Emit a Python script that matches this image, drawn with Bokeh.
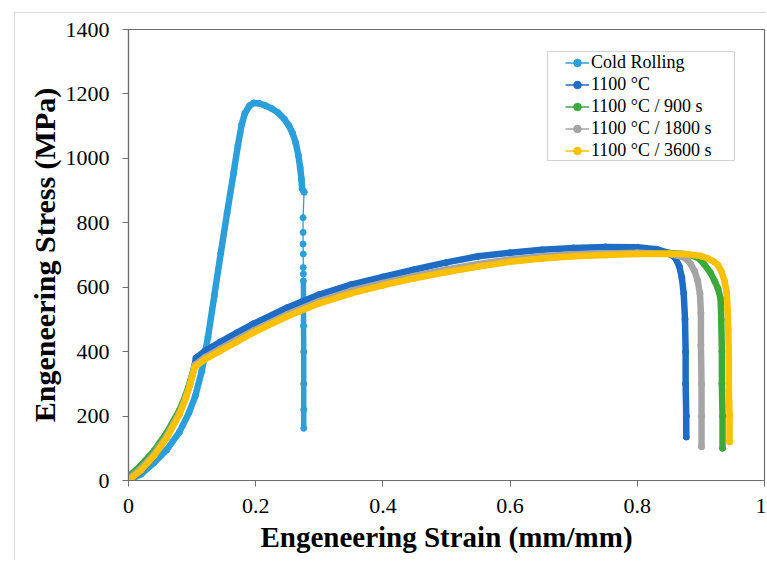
import numpy as np
from bokeh.plotting import figure
from bokeh.models import (Range1d, FixedTicker, Legend, LegendItem, BoxAnnotation,
                          Title)
from bokeh.embed import file_html
from bokeh.resources import INLINE

# ---- tensile data: engineering strain (mm/mm) vs engineering stress (MPa) ----
# Cold rolled
cr_strain = [0, 0.02, 0.04, 0.06, 0.08, 0.095, 0.105, 0.115, 0.125, 0.135, 0.145, 0.155,
             0.165, 0.172, 0.178, 0.183, 0.19, 0.197, 0.205, 0.215, 0.225, 0.235, 0.245,
             0.252, 0.258, 0.263, 0.267, 0.27, 0.272, 0.273, 0.276]
cr_stress = [0, 20, 55, 95, 150, 210, 262, 338, 445, 575, 705, 830,
             952, 1040, 1105, 1140, 1163, 1172, 1171, 1164, 1155, 1142, 1122,
             1102, 1078, 1048, 1010, 970, 935, 905, 895]
# fracture drop of the cold rolled sample
cr_drop_strain = [0.276, 0.2745, 0.2745, 0.2745, 0.2748, 0.2748, 0.275, 0.275, 0.2752,
                  0.2752, 0.2755, 0.2755, 0.2755, 0.2755]
cr_drop_stress = [895, 816, 770, 734, 703, 661, 641, 620, 560, 480, 400, 300, 220, 162]

# Annealed 1100 °C
a0_strain = [0, 0.02, 0.04, 0.06, 0.08, 0.095, 0.102, 0.106, 0.12, 0.144, 0.17, 0.197,
             0.25, 0.3, 0.35, 0.4, 0.45, 0.5, 0.55, 0.6, 0.65, 0.7, 0.75, 0.8, 0.83,
             0.85, 0.86, 0.866, 0.87, 0.873, 0.875, 0.876, 0.876, 0.877, 0.877]
a0_stress = [0, 30, 75, 135, 210, 290, 340, 380, 402, 430, 458, 487,
             537, 577, 608, 632, 655, 677, 696, 707, 716, 722, 725, 724, 718,
             706, 690, 665, 630, 580, 500, 400, 300, 200, 135]

# 1100 °C / 900 s
a900_strain = [0, 0.02, 0.04, 0.06, 0.08, 0.09, 0.097, 0.104, 0.12, 0.144, 0.17, 0.197,
               0.25, 0.3, 0.35, 0.4, 0.45, 0.5, 0.55, 0.6, 0.65, 0.7, 0.75, 0.8, 0.85,
               0.88, 0.895, 0.905, 0.915, 0.922, 0.927, 0.931, 0.932, 0.933, 0.933,
               0.934, 0.934]
a900_stress = [12, 48, 92, 148, 218, 265, 308, 354, 378, 404, 432, 462,
               512, 552, 583, 608, 630, 649, 666, 681, 691, 698, 702, 705, 706,
               702, 692, 672, 645, 618, 595, 565, 500, 400, 300, 200, 100]

# 1100 °C / 1800 s
a1800_strain = [0, 0.02, 0.04, 0.06, 0.08, 0.09, 0.097, 0.105, 0.12, 0.144, 0.17, 0.197,
                0.25, 0.3, 0.35, 0.4, 0.45, 0.5, 0.55, 0.6, 0.65, 0.7, 0.75, 0.8, 0.85,
                0.87, 0.878, 0.884, 0.89, 0.895, 0.8985, 0.9, 0.9, 0.901, 0.901, 0.901]
a1800_stress = [5, 38, 82, 138, 210, 258, 302, 360, 382, 409, 437, 466,
                516, 557, 589, 613, 635, 655, 672, 686, 696, 702, 705, 707, 703,
                695, 686, 672, 650, 620, 580, 520, 420, 300, 200, 105]

# 1100 °C / 3600 s
a3600_strain = [0, 0.02, 0.04, 0.06, 0.08, 0.09, 0.097, 0.104, 0.12, 0.144, 0.17, 0.197,
                0.25, 0.3, 0.35, 0.4, 0.45, 0.5, 0.55, 0.6, 0.65, 0.7, 0.75, 0.8, 0.85,
                0.88, 0.9, 0.91, 0.92, 0.927, 0.932, 0.937, 0.9405, 0.942, 0.943, 0.944,
                0.944, 0.945, 0.945]
a3600_stress = [0, 32, 76, 132, 205, 255, 300, 352, 376, 402, 430, 460,
                510, 550, 581, 606, 628, 647, 664, 679, 689, 696, 700, 703, 704,
                702, 697, 690, 680, 668, 650, 620, 585, 530, 470, 380,
                280, 200, 120]

series_labels = ["Cold Rolling", "1100 °C", "1100 °C / 900 s", "1100 °C / 1800 s",
                 "1100 °C / 3600 s"]
series_colors = ["#2B9FDA", "#1F6CC4", "#3BAA3A", "#A5A5A5", "#FFC000"]

x_ticks = [0, 0.2, 0.4, 0.6, 0.8, 1]
x_tick_labels = ["0", "0.2", "0.4", "0.6", "0.8", "1"]
y_ticks = [0, 200, 400, 600, 800, 1000, 1200, 1400]
y_tick_labels = ["0", "200", "400", "600", "800", "1000", "1200", "1400"]

x_title = "Engeneering Strain (mm/mm)"
y_title = "Engeneering Stress (MPa)"

SERIF = "Liberation Serif"
AXIS_GREY = "#6E6E6E"

# the chart sits inside a light grey chart-area border (top and left edges)
p = figure(width=752, height=548, output_backend="svg", toolbar_location=None,
           x_range=Range1d(0, 1), y_range=Range1d(0, 1400),
           min_border_left=113, min_border_right=3, min_border_top=16,
           min_border_bottom=81, margin=(12, 0, 0, 14),
           styles={"border-top": "1px solid #DCDCDC",
                   "border-left": "1px solid #DCDCDC"})

p.xgrid.visible = False
p.ygrid.visible = False
p.outline_line_color = AXIS_GREY
p.outline_line_width = 1.2

for ax, ticks, labels in ((p.xaxis[0], x_ticks, x_tick_labels),
                          (p.yaxis[0], y_ticks, y_tick_labels)):
    ax.ticker = FixedTicker(ticks=ticks)
    ax.major_label_overrides = {t: s for t, s in zip(ticks, labels)}
    ax.minor_tick_line_color = None
    ax.major_tick_in = 0
    ax.major_tick_out = 6
    ax.major_tick_line_color = AXIS_GREY
    ax.axis_line_color = AXIS_GREY
    ax.axis_line_width = 1.2
    ax.major_label_text_font = SERIF
    ax.major_label_text_font_size = "22px"
    ax.major_label_text_color = "black"

p.xaxis.axis_label = x_title
p.xaxis.axis_label_text_font = SERIF
p.xaxis.axis_label_text_font_style = "bold"
p.xaxis.axis_label_text_font_size = "29px"
p.xaxis.axis_label_text_color = "black"
p.xaxis.major_label_standoff = 12
p.yaxis.major_label_standoff = 13
p.xaxis.axis_label_standoff = 5

# vertical axis title, set a little above the frame centre
p.add_layout(Title(text=y_title, align="center", offset=43, vertical_align="middle",
                   standoff=2, text_font=SERIF, text_font_style="bold",
                   text_font_size="30px", text_color="black"), "left")

BAND = 6.5
DOT = 6

# cold rolled curve (drawn first, below the annealed ones)
c = series_colors[0]
p.line(cr_strain, cr_stress, line_color=c, line_width=BAND, line_join="round", line_cap="round")
p.scatter(cr_strain, cr_stress, size=DOT, color=c)
p.line(cr_drop_strain, cr_drop_stress, line_color=c, line_width=1.3)
p.scatter(cr_drop_strain, cr_drop_stress, size=DOT, color=c)
dense = [i for i, s in enumerate(cr_drop_stress) if s <= 620]
p.line([cr_drop_strain[i] for i in dense], [cr_drop_stress[i] for i in dense],
       line_color=c, line_width=5.5, line_cap="round")

annealed = [(a0_strain, a0_stress), (a900_strain, a900_stress),
            (a1800_strain, a1800_stress), (a3600_strain, a3600_stress)]
for (xs, ys), col in zip(annealed, series_colors[1:]):
    p.line(xs, ys, line_color=col, line_width=BAND, line_join="round", line_cap="round")
    p.scatter(xs, ys, size=DOT, color=col)

# legend frame
p.add_layout(BoxAnnotation(left=531, right=718, top=37, bottom=146,
                           left_units="canvas", right_units="canvas",
                           top_units="canvas", bottom_units="canvas",
                           fill_color="white", fill_alpha=1.0,
                           line_color=AXIS_GREY, line_width=1.2))

items = []
for lab, col in zip(series_labels, series_colors):
    lr = p.line([np.nan], [np.nan], line_color=col, line_width=1.5)
    sr = p.scatter([np.nan], [np.nan], size=6, color=col)
    items.append(LegendItem(label=lab, renderers=[lr, sr]))

legend = Legend(items=items, location=(435, 317), padding=2, margin=0,
                spacing=1, label_height=19, glyph_height=19, glyph_width=24,
                label_standoff=2, border_line_alpha=0, background_fill_alpha=0,
                label_text_font=SERIF, label_text_font_size="18px",
                label_text_color="black")
p.add_layout(legend)

open("out.html", "w").write(file_html(p, INLINE))
